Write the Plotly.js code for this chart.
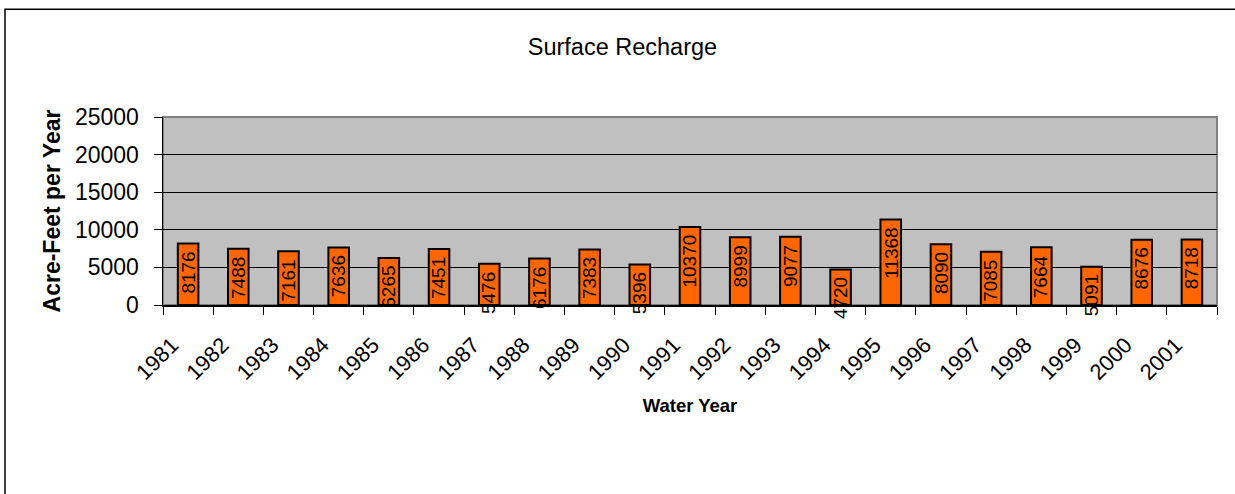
<!DOCTYPE html>
<html>
<head>
<meta charset="utf-8">
<script src="https://cdn.plot.ly/plotly-3.0.1.min.js"></script>
<style>
  html, body { margin: 0; padding: 0; background: #ffffff; }
  #chart { width: 1235px; height: 494px; }
</style>
</head>
<body>
<div id="chart"></div>
<script>
// ---- Data ----
const years = ["1981","1982","1983","1984","1985","1986","1987","1988","1989","1990","1991",
               "1992","1993","1994","1995","1996","1997","1998","1999","2000","2001"];
const recharge = [8176, 7488, 7161, 7636, 6265, 7451, 5476, 6176, 7383, 5396, 10370,
                  8999, 9077, 4720, 11368, 8090, 7085, 7664, 5091, 8676, 8718];
const yTickValues = [0, 5000, 10000, 15000, 20000, 25000];
const yTickLabels = ["0", "5000", "10000", "15000", "20000", "25000"];

const FONT = "Liberation Sans, Arial, sans-serif";

const trace = {
  type: "bar",
  x: years,
  y: recharge,
  marker: { color: "#FF6600", line: { color: "#000000", width: 2 } },
  hoverinfo: "x+y"
};

// value labels, rotated, hanging just below each bar top
// (category axis: annotation x is the category's serial index)
const labels = years.map((yr, i) => ({
  x: i,
  y: recharge[i],
  xref: "x",
  yref: "y",
  text: String(recharge[i]),
  textangle: -90,
  showarrow: false,
  yanchor: "top",
  xanchor: "center",
  yshift: -6,
  font: { family: FONT, size: 19, color: "#000000" }
}));

const layout = {
  width: 1235,
  height: 494,
  paper_bgcolor: "#ffffff",
  plot_bgcolor: "#C0C0C0",
  margin: { l: 163, r: 18, t: 117, b: 188.5, pad: 0 },
  showlegend: false,
  bargap: 0.59,
  font: { family: FONT, color: "#000000" },
  title: {
    text: "Surface Recharge",
    font: { family: FONT, size: 23.5, color: "#000000" },
    xref: "container", x: 0.504, xanchor: "center",
    yref: "container", y: 0.905, yanchor: "middle"
  },
  xaxis: {
    type: "category",
    range: [-0.5, years.length - 0.5],
    tickangle: -45,
    tickfont: { family: FONT, size: 22, color: "#000000" },
    ticks: "outside",
    tickson: "boundaries",
    ticklen: 8,
    tickcolor: "#000000",
    tickwidth: 1,
    ticklabelstandoff: 17,
    ticklabelshift: -16,
    showline: true,
    linecolor: "#000000",
    linewidth: 1.5,
    showgrid: false,
    zeroline: false,
    automargin: false,
    title: {
      text: "<b>Water Year</b>",
      font: { family: FONT, size: 18.5, color: "#000000" },
      standoff: 15
    }
  },
  yaxis: {
    range: [0, 25000],
    tickvals: yTickValues,
    ticktext: yTickLabels,
    tickfont: { family: FONT, size: 23, color: "#000000" },
    ticks: "outside",
    ticklen: 8,
    tickcolor: "#000000",
    tickwidth: 1,
    ticklabelstandoff: 10,
    showline: true,
    linecolor: "#000000",
    linewidth: 1.5,
    showgrid: true,
    gridcolor: "#000000",
    gridwidth: 1,
    zeroline: false,
    automargin: false,
    title: {
      text: "<b>Acre-Feet per Year</b>",
      font: { family: FONT, size: 23, color: "#000000" },
      standoff: 8
    }
  },
  annotations: labels,
  shapes: [
    // grey plot-area frame (top / right edges)
    { type: "rect", xref: "paper", yref: "paper", x0: 0, x1: 1, y0: 0, y1: 1,
      line: { color: "#808080", width: 2 }, layer: "below" },
    // outer chart border (left and top visible)
    { type: "rect", xref: "paper", yref: "paper",
      x0: (5 - 163) / 1054, x1: 1.2, y0: -2, y1: (305.5 - 9) / 188.5,
      line: { color: "#000000", width: 1.5 }, layer: "above" }
  ]
};

Plotly.newPlot("chart", [trace], layout, { displayModeBar: false, staticPlot: true });
</script>
</body>
</html>
